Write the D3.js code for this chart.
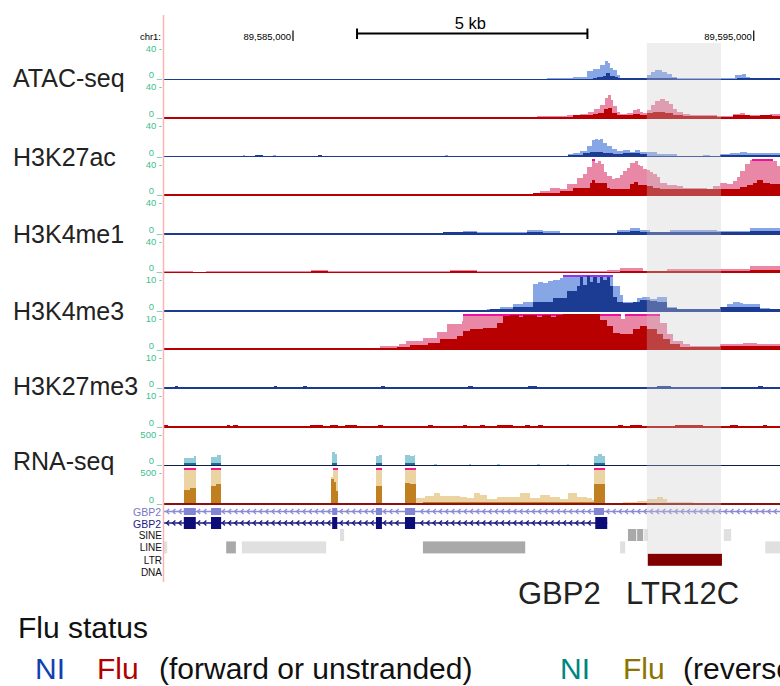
<!DOCTYPE html>
<html>
<head>
<meta charset="utf-8">
<script src="https://cdn.jsdelivr.net/npm/d3@7"></script>
<style>
body { margin: 0; background: #fff; }
text { font-family: Arial, "Liberation Sans", sans-serif; }
</style>
</head>
<body>
<script>
//SVG size
var w = 780, h = 686;

// positions are kb past chr1:89,580,000
var ORIGIN = 89580000;
var viewKb = [2.2, 15.57];
var rulerTicks = [5, 15];
var scaleBarKb = [6.39, 11.39];
var highlightKb = [12.68, 14.29];

var assays = ["ATAC-seq", "H3K27ac", "H3K4me1", "H3K4me3", "H3K27me3", "RNA-seq"];
var assayMax = [40, 40, 40, 10, 10, 500];

// signal tracks: [kb, value] steps, value holds until the next step
var atacNI_light = [[2.2,0],[10.51,1.5],[10.80,1],[11.08,3],[11.38,9],[11.51,12],[11.66,16],[11.77,20],[11.84,18],[11.88,13],[11.95,10],[12.03,4.5],[12.10,2],[12.68,4.5],[12.77,8],[12.86,10],[13.01,8],[13.12,5.5],[13.23,3],[13.34,1],[14.49,2],[14.60,4.5],[14.75,5.5],[14.83,3],[14.92,2]];
var atacNI_dark = [[2.2,0],[10.8,0.8],[11.51,2],[11.60,3],[11.73,4],[11.80,6.5],[11.88,4],[11.99,3],[12.05,1],[12.68,2],[13.34,0.5],[14.64,2],[14.92,1.5]];
var atacFlu_light = [[2.2,0],[4.07,1],[4.13,0],[5.02,1.2],[5.15,0],[5.39,1.5],[6.02,0],[7.37,1.2],[7.65,0],[8.04,1],[8.13,0],[8.69,1],[8.99,0.3],[9.34,1],[10.30,2],[10.95,3],[11.23,4],[11.40,7],[11.53,10],[11.66,14],[11.77,22],[11.84,26],[11.90,20],[11.95,13],[12.03,7],[12.10,4.5],[12.25,5],[12.38,9],[12.47,10],[12.53,7],[12.60,5],[12.68,9],[12.77,14],[12.86,19],[12.97,21],[13.08,19],[13.15,15],[13.25,10],[13.34,7],[13.47,4.5],[13.62,3.5],[14.20,2.5],[14.55,4],[14.70,5.5],[14.81,3.5],[15.00,3],[15.35,4]];
var atacFlu_dark = [[2.2,0],[10.30,1],[10.95,1.5],[11.08,3],[11.51,4],[11.62,6],[11.75,10],[11.84,11],[11.92,6],[12.03,3.5],[12.38,4],[12.53,3],[12.68,5],[12.81,7],[13.08,5],[13.25,3],[13.47,2],[14.20,1.5],[14.55,3],[14.92,2],[15.14,3],[15.40,2.5]];

var k27acNI_light = [[2.2,0],[3.91,1.5],[3.96,0],[4.17,2],[4.35,0],[4.57,1.2],[4.63,0],[5.54,2],[5.63,0],[8.30,1.2],[8.36,0],[9.23,1],[9.38,0],[9.86,1],[10.14,0],[10.25,1],[10.97,2.5],[11.08,3.7],[11.23,6.3],[11.38,12],[11.49,18],[11.56,19],[11.62,18],[11.66,19],[11.73,14.5],[11.82,12],[11.92,8],[12.03,6.3],[12.16,7],[12.31,5.5],[12.42,7],[12.53,4.5],[12.75,5.2],[12.90,3.3],[13.12,2.5],[13.34,0.8],[13.90,1.9],[14.05,0.8],[14.27,2.5],[14.49,3.7],[14.70,5.5],[14.85,3.7]];
var k27acNI_dark = [[2.2,0],[4.17,1.2],[4.35,0],[5.54,1.2],[5.63,0],[10.97,1.5],[11.29,3.7],[11.45,5.5],[11.73,3.7],[11.95,2.5],[12.16,3.7],[12.53,2.5],[12.68,0.8],[14.27,1.9]];
var k27acFlu_light = [[2.2,1.3],[2.75,0.4],[3.0,1.3],[10.21,2],[10.36,4.5],[10.58,7.5],[10.80,6.5],[10.95,12],[11.16,19],[11.29,23],[11.38,31],[11.49,41],[11.56,36],[11.62,38],[11.69,35],[11.75,26],[11.82,21],[11.92,18],[11.99,19],[12.10,22],[12.16,27],[12.25,30],[12.31,36],[12.42,38],[12.49,34],[12.53,32],[12.60,29],[12.68,28],[12.75,26],[12.81,24],[12.90,20],[12.97,13],[13.12,11],[13.34,10],[13.47,8],[13.99,6.5],[14.12,10],[14.27,13],[14.42,12],[14.55,15.5],[14.64,20],[14.70,27],[14.81,35],[14.92,39],[14.96,41],[15.35,41],[15.42,38],[15.50,32]];
var k27acFlu_dark = [[2.2,1.2],[2.45,0],[2.55,1.2],[2.70,0],[3.9,1.5],[4.2,0.5],[4.5,1.3],[5.0,0.6],[5.2,1.3],[5.45,1.6],[5.7,0.6],[6.15,1.3],[6.6,0.7],[6.9,1.3],[7.3,0.6],[7.5,1.2],[7.9,1.3],[8.5,0.6],[8.6,1.3],[9.0,1],[10.21,2.5],[10.80,4.5],[11.08,8],[11.45,13],[11.49,16.5],[11.56,13.5],[11.66,13],[11.82,8],[11.88,7],[12.31,12],[12.40,14.5],[12.49,11],[12.68,10],[12.81,8],[12.97,6.3],[14.70,9],[14.85,11],[14.98,14],[15.07,16.5],[15.20,13],[15.35,12.5]];

var k4me1NI_light = [[2.2,0],[7.60,1],[8.69,3],[8.99,1.5],[10.08,4.5],[10.43,2.5],[10.80,1],[12.03,4],[12.31,6.5],[12.53,4.5],[12.75,2],[13.18,4.5],[14.20,3.5],[14.92,6.5]];
var k4me1NI_dark = [[2.2,0],[8.26,1.5],[9.0,1],[10.08,2],[10.43,1],[12.03,2],[12.31,3.5],[12.53,2],[13.18,1.5],[14.20,2],[14.92,3.5]];
var k4me1Flu_light = [[2.2,1],[2.82,0],[3.11,1],[5.39,2.5],[5.76,1],[8.41,3],[8.99,1],[11.82,2.2],[12.10,4.8],[12.60,1.3],[13.12,4],[14.92,7.4]];
var k4me1Flu_dark = [[2.2,0.6],[5.39,2],[5.76,0.8],[8.41,1.5],[8.99,0.8],[12.10,2],[12.60,1],[13.12,1.5],[14.92,3]];

var k4me3NI_light = [[2.2,0.3],[9.21,0.6],[9.49,1.1],[9.78,1.9],[9.99,2.5],[10.21,7.4],[10.32,8.1],[10.43,7.7],[10.53,8.3],[10.64,8.6],[10.80,9.2],[10.86,11],[11.95,6.8],[12.10,4.4],[12.16,2.6],[12.47,3.5],[12.58,4],[12.75,3.3],[12.90,4],[12.97,3.9],[13.12,1.1],[13.34,0.3],[14.27,1.1],[14.42,2],[14.55,2.5],[14.70,2.3],[14.77,2],[14.92,1.9],[15.14,0.9],[15.35,0.3]];
var k4me3NI_dark = [[2.2,0.25],[9.28,0.55],[9.78,1.2],[10.21,2.6],[10.64,3.5],[10.95,5.4],[11.16,6.8],[11.23,9.5],[11.29,7.2],[11.38,9.8],[11.45,8.1],[11.51,9.5],[11.60,7.7],[11.66,9.5],[11.73,8.6],[11.82,9.5],[11.88,6.8],[11.95,4],[12.03,2.6],[12.16,2.1],[12.38,2.6],[12.53,3],[12.75,2.8],[12.90,2.6],[13.12,0.8],[13.34,0.4],[14.27,1.1],[15.14,0.4]];
var k4me3Flu_light = [[2.2,0.3],[6.89,0.9],[7.30,1.4],[7.45,2.3],[7.82,3.2],[8.13,5],[8.34,7],[8.67,7.8],[8.69,11],[12.12,8.5],[12.20,11],[12.97,7.4],[13.12,4.2],[13.25,2.3],[13.47,1.4],[13.62,0.9],[14.27,1.4],[14.77,1.8],[15.07,1.5],[15.29,1.4]];
var k4me3Flu_dark = [[2.2,0.3],[7.26,0.6],[7.54,1.2],[7.93,1.9],[8.2,2.8],[8.56,3.7],[8.69,5.1],[8.84,5.6],[9.13,6],[9.43,7.4],[9.56,9.3],[9.71,9.6],[9.9,9.0],[10.0,9.5],[10.3,9.0],[10.4,9.6],[10.6,9.1],[10.7,9.5],[10.86,11],[11.66,8.3],[11.82,6.5],[11.95,4.6],[12.10,4.2],[12.38,5.6],[12.53,6.5],[12.68,5.6],[12.90,4.2],[13.03,2.8],[13.18,1.4],[13.40,0.7],[14.27,1.1]];

var k27me3NI_light = [[2.2,0]];
var k27me3NI_dark = [[2.2,0.3],[2.44,0.6],[2.5,0.3],[4.58,0.6],[4.66,0.3],[5.22,0.6],[5.3,0.3],[6.9,0.5],[7.0,0.3],[8.8,0.5],[8.9,0.3],[10.1,0.5],[10.3,0.3],[12.9,0.5],[13.2,0.3],[15.1,0.5],[15.2,0.3]];
var k27me3Flu_light = [[2.2,0]];
var k27me3Flu_dark = [[2.2,0.45],[2.28,0],[3.57,0.45],[3.63,0],[3.70,0.45],[3.81,0],[5.37,0.45],[5.65,0],[5.80,0.45],[5.98,0],[6.13,0.45],[6.39,0],[6.84,0.45],[6.95,0],[7.93,0.45],[8.04,0],[8.69,0.45],[8.78,0],[9.06,0.45],[9.17,0],[9.43,0.45],[9.78,0],[10.04,0.45],[10.14,0],[10.32,0.45],[10.43,0],[12.05,0.45],[12.16,0],[12.31,0.45],[12.57,0],[13.29,0.45],[13.90,0],[14.49,0.45],[14.66,0],[15.20,0.45],[15.29,0]];

var rnaNI_light = [[2.2,0],[2.63,95],[2.76,105],[2.85,125],[2.89,0],[3.22,110],[3.35,150],[3.44,0],[5.85,180],[5.91,160],[5.96,0],[6.80,125],[6.87,150],[6.93,0],[7.43,150],[7.55,130],[7.62,150],[7.65,0],[8.06,15],[8.13,0],[8.82,12],[8.86,0],[9.43,15],[9.49,0],[10.30,15],[10.36,0],[10.95,12],[10.99,0],[11.53,130],[11.62,155],[11.71,130],[11.77,0]];
var rnaNI_dark = [[2.2,0],[2.63,28],[2.89,0],[3.22,28],[3.44,0],[5.85,28],[5.96,0],[6.80,28],[6.93,0],[7.43,28],[7.65,0],[11.53,28],[11.77,0]];
var rnaFlu_light = [[2.2,10],[2.63,520],[2.89,12],[3.22,520],[3.44,10],[5.65,18],[5.83,380],[5.87,520],[5.98,12],[6.80,520],[6.93,10],[7.43,520],[7.67,80],[7.76,85],[7.86,115],[8.06,150],[8.19,115],[8.41,110],[8.63,100],[8.78,83],[8.92,150],[9.06,125],[9.21,70],[9.43,97],[9.64,97],[9.93,150],[10.14,83],[10.36,125],[10.58,97],[10.80,70],[10.97,150],[11.16,97],[11.38,83],[11.49,55],[11.53,520],[11.77,14],[12.16,28],[12.47,42],[12.68,70],[12.90,97],[13.03,70],[13.12,28],[13.68,14]];
var rnaFlu_dark = [[2.2,5],[2.63,195],[2.76,220],[2.89,5],[3.22,250],[3.33,275],[3.44,5],[5.83,340],[5.90,300],[5.94,180],[5.98,5],[6.80,255],[6.93,5],[7.43,290],[7.55,270],[7.67,14],[7.82,25],[11.53,275],[11.77,10],[12.68,14],[13.12,8]];

// GBP2 (minus strand), two transcripts
var gbp2Exons1 = [[2.63,2.89],[3.22,3.44],[5.85,5.96],[6.80,6.93],[7.43,7.65],[11.53,11.75]];
var gbp2Exons2 = [[2.63,2.89],[3.22,3.44],[5.85,5.96],[6.80,6.93],[7.43,7.65],[11.56,11.82]];
var gbp2Span1 = [2.2, 16];
var gbp2Span2 = [2.2, 11.82];

// RepeatMasker: [start, end, shade]
var repClasses = ["SINE", "LINE", "LTR", "DNA"];
var sine = [[6.02,6.11,"lt"],[12.27,12.45,"dk"],[12.47,12.60,"dk"],[12.62,12.70,"lt"],[14.35,14.51,"lt"]];
var line = [[2.2,2.27,"lt"],[3.55,3.76,"dk"],[3.89,5.72,"lt"],[7.82,10.04,"dk"],[12.10,12.21,"lt"],[15.25,15.6,"lt"]];
var ltr = [[12.70,14.31,"ltr"]];
var dna = [];

var palette = {
    NI:    {light: "#86a6e6", dark: "#1c3c94", base: "#1c3c94", clip: "#9b30e8"},
    Flu:   {light: "#e888a6", dark: "#b80000", base: "#b80000", clip: "#ea10a0"},
    rnaNI: {light: "#92ccd9", dark: "#1e6e8e", base: "#0d1b4d", clip: "#ea10a0"},
    rnaFlu:{light: "#ecd4a2", dark: "#c08020", base: "#8b1010", clip: "#f01890"}
};

var tracks = [
    {assay: 0, pal: "NI", light: atacNI_light, dark: atacNI_dark},
    {assay: 0, pal: "Flu", light: atacFlu_light, dark: atacFlu_dark},
    {assay: 1, pal: "NI", light: k27acNI_light, dark: k27acNI_dark},
    {assay: 1, pal: "Flu", light: k27acFlu_light, dark: k27acFlu_dark},
    {assay: 2, pal: "NI", light: k4me1NI_light, dark: k4me1NI_dark},
    {assay: 2, pal: "Flu", light: k4me1Flu_light, dark: k4me1Flu_dark},
    {assay: 3, pal: "NI", light: k4me3NI_light, dark: k4me3NI_dark},
    {assay: 3, pal: "Flu", light: k4me3Flu_light, dark: k4me3Flu_dark},
    {assay: 4, pal: "NI", light: k27me3NI_light, dark: k27me3NI_dark},
    {assay: 4, pal: "Flu", light: k27me3Flu_light, dark: k27me3Flu_dark},
    {assay: 5, pal: "rnaNI", light: rnaNI_light, dark: rnaNI_dark},
    {assay: 5, pal: "rnaFlu", light: rnaFlu_light, dark: rnaFlu_dark}
];

var svg = d3.select("body").append("svg")
    .attr("width", w)
    .attr("height", h);

var x = d3.scaleLinear().domain(viewKb).range([164, 780]);
var trackH = 36;
var axisColor = "#3dbf8e";
var fmt = d3.format(",");

//ruler
svg.append("text").attr("x", 161).attr("y", 39.5).attr("text-anchor", "end")
    .style("font-size", "9.5px").text("chr1:");
rulerTicks.forEach(function(t){
    svg.append("line").attr("x1", x(t)).attr("x2", x(t)).attr("y1", 30.5).attr("y2", 41)
        .attr("stroke", "#000").attr("stroke-width", 1.2);
    svg.append("text").attr("x", x(t) - 2).attr("y", 39.5).attr("text-anchor", "end")
        .style("font-size", "9.5px").text(fmt(ORIGIN + t * 1000));
});
var sb0 = x(scaleBarKb[0]), sb1 = x(scaleBarKb[1]);
svg.append("line").attr("x1", sb0).attr("x2", sb1).attr("y1", 33.5).attr("y2", 33.5)
    .attr("stroke", "#000").attr("stroke-width", 2);
[sb0, sb1].forEach(function(p){
    svg.append("line").attr("x1", p).attr("x2", p).attr("y1", 28.5).attr("y2", 39)
        .attr("stroke", "#000").attr("stroke-width", 2);
});
svg.append("text").attr("x", (sb0 + sb1) / 2 - 2).attr("y", 28.5).attr("text-anchor", "middle")
    .style("font-size", "16.5px").text(d3.format(".0f")(scaleBarKb[1] - scaleBarKb[0]) + " kb");

//signal tracks
function withEnd(arr){
    var pts = arr.slice();
    pts.push([viewKb[1] + 0.1, arr[arr.length - 1][1]]);
    return pts;
}
tracks.forEach(function(t, i){
    var base = 79.3 + 38.6 * i;
    var max = assayMax[t.assay];
    var col = palette[t.pal];
    var y = d3.scaleLinear().domain([0, max]).range([base, base - trackH]).clamp(true);
    var area = d3.area().curve(d3.curveStepAfter)
        .x(function(d){ return x(d[0]); })
        .y0(base)
        .y1(function(d){ return y(d[1]); });
    var g = svg.append("g").attr("class", "track").attr("shape-rendering", "crispEdges");
    var lp = withEnd(t.light), dp = withEnd(t.dark);
    g.append("path").datum(lp).attr("d", area).attr("fill", col.light);
    //clipped values get a bar at the top
    for (var j = 0; j < lp.length - 1; j++) {
        if (lp[j][1] >= max) {
            g.append("rect").attr("x", x(lp[j][0])).attr("y", base - trackH)
                .attr("width", x(lp[j + 1][0]) - x(lp[j][0])).attr("height", 2)
                .attr("fill", col.clip);
        }
    }
    g.append("path").datum(dp).attr("d", area).attr("fill", col.dark);
    g.append("line").attr("x1", 164).attr("x2", 780).attr("y1", base).attr("y2", base)
        .attr("stroke", col.base).attr("stroke-width", 1.6);
    //y labels
    svg.append("text").attr("x", 162).attr("y", base - 27.5).attr("text-anchor", "end")
        .attr("fill", axisColor).style("font-size", "9.5px").text(max + " -");
    svg.append("text").attr("x", 162).attr("y", base - 1).attr("text-anchor", "end")
        .attr("fill", axisColor).style("font-size", "9.5px").text("0 _");
});

//assay names
var labelY = [87, 165.5, 243, 319.5, 394.5, 469.5];
svg.selectAll(".assay").data(assays).enter().append("text")
    .attr("class", "assay")
    .attr("x", 13)
    .attr("y", function(d, i){ return labelY[i]; })
    .style("font-size", "25px")
    .attr("fill", "#222")
    .text(function(d){ return d; });

//gene models
function drawGene(span, exons, cy, exH, color, lineColor, label, labelColor){
    var g = svg.append("g");
    var s0 = x(span[0]), s1 = Math.min(x(span[1]), 780);
    g.append("line").attr("x1", s0).attr("x2", s1).attr("y1", cy).attr("y2", cy)
        .attr("stroke", lineColor).attr("stroke-width", 1.3);
    for (var p = s0 + 3; p < s1 - 2; p += 6.2) {
        var inside = exons.some(function(e){ return p > x(e[0]) - 3 && p < x(e[1]) + 1; });
        if (inside) continue;
        g.append("path")
            .attr("d", "M" + (p + 2.2) + "," + (cy - 2.6) + "L" + (p - 0.6) + "," + cy + "L" + (p + 2.2) + "," + (cy + 2.6))
            .attr("fill", "none").attr("stroke", lineColor).attr("stroke-width", 1.3);
    }
    g.selectAll("rect").data(exons).enter().append("rect")
        .attr("x", function(e){ return x(e[0]); })
        .attr("width", function(e){ return x(e[1]) - x(e[0]); })
        .attr("y", cy - exH / 2).attr("height", exH)
        .attr("fill", color);
    svg.append("text").attr("x", 161).attr("y", cy + 4.5).attr("text-anchor", "end")
        .attr("fill", labelColor).style("font-size", "10.5px").text(label);
}
drawGene(gbp2Span1, gbp2Exons1, 511.5, 7, "#8484d4", "#8a8ad8", "GBP2", "#7777c4");
drawGene(gbp2Span2, gbp2Exons2, 523, 12, "#0c0c78", "#1a1a80", "GBP2", "#1a1a88");

//repeats
var repColor = {lt: "#e0e0e0", dk: "#a9a9a9", ltr: "#800000"};
[sine, line, ltr, dna].forEach(function(rows, i){
    var top = 529 + 12.4 * i;
    svg.selectAll(".rep" + i).data(rows).enter().append("rect")
        .attr("class", "rep" + i)
        .attr("x", function(d){ return x(d[0]); })
        .attr("width", function(d){ return x(d[1]) - x(d[0]); })
        .attr("y", top).attr("height", 12)
        .attr("fill", function(d){ return repColor[d[2]]; });
    svg.append("text").attr("x", 162).attr("y", top + 10).attr("text-anchor", "end")
        .style("font-size", "10px").attr("fill", "#111").text(repClasses[i]);
});

//highlight over LTR12C
svg.append("rect")
    .attr("x", x(highlightKb[0])).attr("width", x(highlightKb[1]) - x(highlightKb[0]))
    .attr("y", 43).attr("height", 554 - 43)
    .attr("fill", "rgb(201,201,201)").attr("fill-opacity", 0.32);

//left border
svg.append("line").attr("x1", 163.5).attr("x2", 163.5).attr("y1", 15).attr("y2", 582)
    .attr("stroke", "#ffb4b4").attr("stroke-width", 1.5);

//feature names
svg.append("text").attr("x", 518).attr("y", 604).style("font-size", "31px").attr("fill", "#222").text("GBP2");
svg.append("text").attr("x", 626).attr("y", 604).style("font-size", "31px").attr("fill", "#222").text("LTR12C");

//legend
var legendItems = [
    {text: "NI", x: 35, color: "#1040b0"},
    {text: "Flu", x: 97, color: "#b00000"},
    {text: "(forward or unstranded)", x: 159, color: "#111"},
    {text: "NI", x: 560, color: "#00857f"},
    {text: "Flu", x: 623, color: "#8b7500"},
    {text: "(reverse)", x: 683, color: "#111"}
];
svg.append("text").attr("x", 18).attr("y", 638).style("font-size", "30px").attr("fill", "#111").text("Flu status");
svg.selectAll(".legend").data(legendItems).enter().append("text")
    .attr("class", "legend")
    .attr("x", function(d){ return d.x; })
    .attr("y", 679)
    .style("font-size", "30px")
    .attr("fill", function(d){ return d.color; })
    .text(function(d){ return d.text; });
</script>
</body>
</html>
